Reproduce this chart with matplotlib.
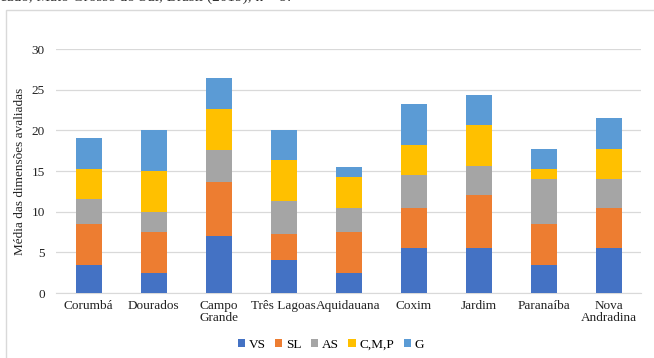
import matplotlib
matplotlib.use("Agg")
import matplotlib.pyplot as plt
import numpy as np
from matplotlib.patches import Rectangle

cities = ["Corumbá", "Dourados", "Campo\nGrande", "Três Lagoas", "Aquidauana",
          "Coxim", "Jardim", "Paranaíba", "Nova\nAndradina"]
series = ["VS", "SL", "AS", "C,M,P", "G"]
vs = [3.5, 2.5, 7.0, 4.0, 2.5, 5.5, 5.5, 3.5, 5.5]
sl = [5.0, 5.0, 6.6, 3.3, 5.0, 5.0, 6.6, 5.0, 5.0]
as_ = [3.0, 2.5, 4.0, 4.0, 3.0, 4.0, 3.5, 5.5, 3.5]
cmp_ = [3.75, 5.0, 5.0, 5.0, 3.75, 3.75, 5.0, 1.25, 3.75]
g = [3.75, 5.0, 3.8, 3.75, 1.25, 5.0, 3.75, 2.5, 3.75]
colors = ["#4472C4", "#ED7D31", "#A5A5A5", "#FFC000", "#5B9BD5"]

plt.rcParams["font.family"] = ["Liberation Serif", "DejaVu Serif"]

fig = plt.figure(figsize=(6.54, 3.58), dpi=100)
W, H = 654, 358
ax = fig.add_axes([56 / W, 1 - 293 / H, 585 / W, 244 / H])

x = np.arange(len(cities))
bottom = np.zeros(len(cities))
for name, vals, col in zip(series, [vs, sl, as_, cmp_, g], colors):
    ax.bar(x, vals, width=0.4, bottom=bottom, color=col, label=name, zorder=3)
    bottom += np.array(vals)

ax.set_xlim(-0.5, len(cities) - 0.5)
ax.set_ylim(0, 30)
ax.set_yticks(range(0, 31, 5))
ax.grid(axis="y", color="#d9d9d9", linewidth=0.9, zorder=0)
for side in ["top", "right", "left"]:
    ax.spines[side].set_visible(False)
ax.spines["bottom"].set_color("#d9d9d9")
ax.tick_params(length=0, labelsize=9.5, colors="#222222")
ax.tick_params(axis="y", pad=8)
ax.tick_params(axis="x", pad=5)
ax.set_xticks(x)
ax.set_xticklabels(cities, linespacing=1.0)
ax.set_ylabel("Média das dimensões avaliadas", fontsize=9.5, labelpad=4,
              color="#222222")

ax.legend(loc="upper center", bbox_to_anchor=(0.47, -0.14), ncol=5, frameon=False,
          fontsize=9.5, handlelength=0.55, handleheight=0.55, handletextpad=0.3,
          columnspacing=0.7)

fig.add_artist(Rectangle((6 / W, -0.1), 1.0, 1.1 - 10 / H, transform=fig.transFigure,
                         fill=False, edgecolor="#d9d9d9", linewidth=1.0))
fig.text(0.0, 1 - 0.5 / H, "cado, Mato Grosso do Sul, Brasil (2019), n = 9.",
         fontsize=11, va="baseline", ha="left", color="#333333")

fig.savefig("out.png", dpi=100)
